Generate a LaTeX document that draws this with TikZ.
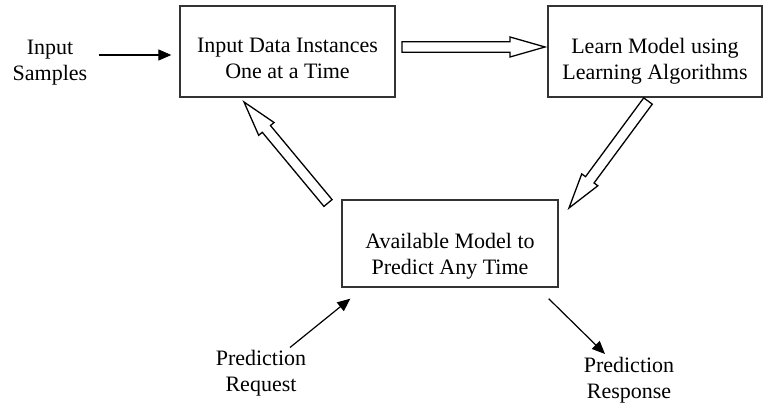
\documentclass[tikz,border=0pt]{standalone}
\usepackage{fontspec}
\setmainfont{Liberation Serif}
\usetikzlibrary{arrows.meta,calc}

\tikzset{
  stagebox/.style={draw=black!80, line width=1.3pt},
  sidetext/.style={align=center, font=\fontsize{22}{26}\selectfont},
  thinarrow/.style={-{Triangle[length=13pt,width=11pt]}, line width=1.2pt},
  blockarrow/.style={draw, line width=1.3pt, fill=white, line join=miter}
}

% hollow block arrow from #1 (tail) to #2 (tip)
\newcommand{\hollowarrow}[2]{%
  \coordinate (hb) at ($(#2)!35pt!(#1)$);
  \draw[blockarrow] ($(#1)!5.3pt!90:(#2)$) -- ($(hb)!5.3pt!90:(#2)$)
    -- ($(hb)!10pt!90:(#2)$) -- (#2) -- ($(hb)!10pt!-90:(#2)$)
    -- ($(hb)!5.3pt!-90:(#2)$) -- ($(#1)!5.3pt!-90:(#2)$) -- cycle;}

\begin{document}
\begin{tikzpicture}[x=1pt,y=1pt]

  \useasboundingbox (0,0) rectangle (764,405);

  % --- Boxes ---
  \node[stagebox, minimum width=215pt, minimum height=91pt] (inbox)
    at (287.5,353.5) {};
  \node[stagebox, minimum width=214pt, minimum height=91pt] (learn)
    at (655,353.5) {};
  \node[stagebox, minimum width=216pt, minimum height=87pt] (avail)
    at (450,161.5) {};

  % --- Box texts (set a little low, as drawn) ---
  \node[sidetext] (inboxtext) at ([yshift=-7pt]inbox.center)
    {Input Data Instances\\One at a Time};
  \node[sidetext] (learntext) at ([yshift=-9.5pt]learn.center)
    {Learn Model using\\Learning Algorithms};
  \node[sidetext] (availtext) at ([yshift=-12.5pt]avail.center)
    {Available Model to\\Predict Any Time};

  % --- Outside labels ---
  \node[sidetext] (samples) at (50,342.5) {Input\\Samples};
  \node[sidetext] (request) at (261,32) {Prediction\\Request};
  \node[sidetext] (response) at (629,24.5) {Prediction\\Response};

  % --- Hollow arrows (cycle) ---
  \coordinate (t1) at (402,358);
  \coordinate (h1) at (545,358);
  \coordinate (t2) at (648,304);
  \coordinate (h2) at (569,197);
  \coordinate (t3) at (328,202);
  \coordinate (h3) at (244,303);
  \hollowarrow{t1}{h1}
  \hollowarrow{t2}{h2}
  \hollowarrow{t3}{h3}

  % --- Thin arrows ---
  \draw[thinarrow, shorten <=8pt, shorten >=8pt]
    (samples.east |- 0,350) -- (inbox.west |- 0,350);
  \coordinate (rq) at ($(request.north)+(29,-1)$);
  \draw[thinarrow] (rq) -- ($(avail.south west)+(9,-11)$);
  \coordinate (rs) at ($(response.north)+(-24,0)$);
  \draw[thinarrow] ($(avail.south east)+(-10,-11)$) -- (rs);

\end{tikzpicture}
\end{document}
